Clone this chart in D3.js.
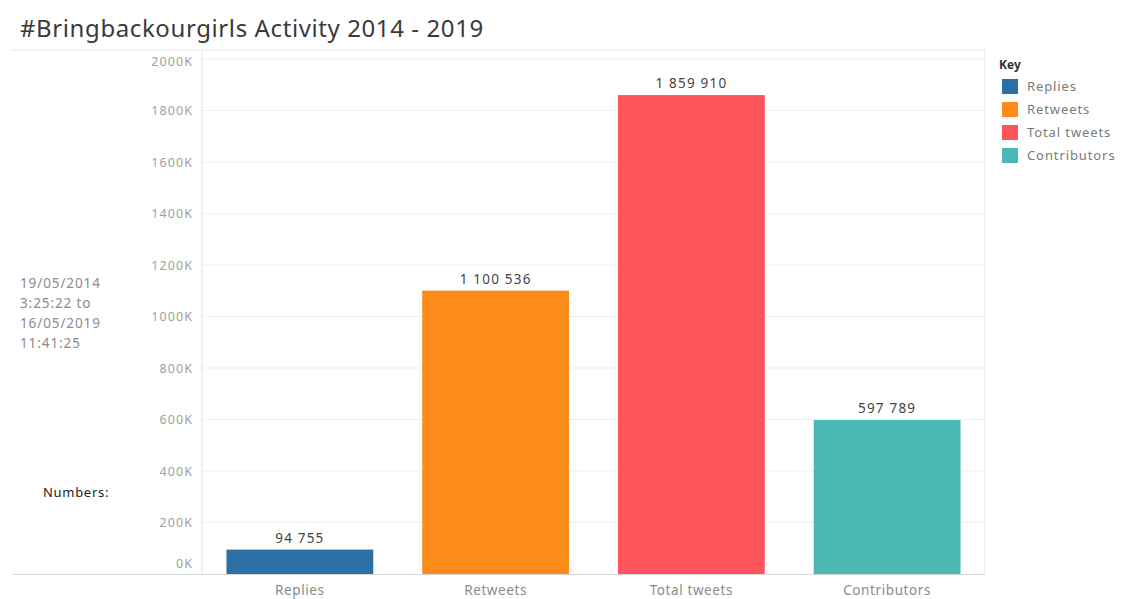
<!DOCTYPE html>
<html>
<head>
<meta charset="utf-8">
<script src="https://cdn.jsdelivr.net/npm/d3@7"></script>
<style>
  html, body { margin: 0; padding: 0; background: #fff; }
  svg { display: block; }
  text { font-family: "Noto Sans", "DejaVu Sans", sans-serif; }
</style>
</head>
<body>
<svg id="chart" width="1122" height="599"></svg>
<script>
// Activity totals for the hashtag over the period
const categories = ["Replies", "Retweets", "Total tweets", "Contributors"];
const values = [94755, 1100536, 1859910, 597789];
const colors = ["#2b6fa4", "#fb8c1c", "#fe545c", "#4ab8b3"];
const yTicks = [0, 200000, 400000, 600000, 800000, 1000000, 1200000, 1400000, 1600000, 1800000, 2000000];
const periodLines = ["19/05/2014", "3:25:22 to", "16/05/2019", "11:41:25"];

const svg = d3.select("#chart");

const plot = { left: 202, right: 985, top: 50, bottom: 574 };

const x = d3.scaleBand()
  .domain(categories)
  .range([plot.left, plot.right])
  .paddingInner(0.25)
  .paddingOuter(0.125);

const y = d3.scaleLinear()
  .domain([0, 2000000])
  .range([plot.bottom, 59]);

const fmtK = v => (v / 1000) + "K";
const fmtNum = v => d3.format(",")(v).replace(/,/g, " ");

// Title
svg.append("text")
  .attr("x", 20).attr("y", 37)
  .attr("font-size", 24)
  .attr("letter-spacing", 0.6)
  .attr("fill", "#3a3a3a")
  .text("#Bringbackourgirls Activity 2014 - 2019");

// Gridlines
svg.append("g")
  .selectAll("line")
  .data(yTicks.filter(t => t > 0))
  .join("line")
  .attr("x1", plot.left).attr("x2", plot.right)
  .attr("y1", d => y(d)).attr("y2", d => y(d))
  .attr("stroke", "#efefef").attr("stroke-width", 1);

// Frame lines
svg.append("line")
  .attr("x1", 12).attr("x2", plot.right)
  .attr("y1", plot.top).attr("y2", plot.top)
  .attr("stroke", "#e6e6e6");
svg.append("line")
  .attr("x1", plot.right).attr("x2", plot.right)
  .attr("y1", plot.top).attr("y2", plot.bottom)
  .attr("stroke", "#e6e6e6");
svg.append("line")
  .attr("x1", plot.left).attr("x2", plot.left)
  .attr("y1", plot.top).attr("y2", plot.bottom)
  .attr("stroke", "#e2e2e2");

// Y axis labels
const yAxis = d3.axisLeft(y)
  .tickValues(yTicks)
  .tickFormat(fmtK)
  .tickSize(0)
  .tickPadding(9);
const gy = svg.append("g")
  .attr("transform", `translate(${plot.left},0)`)
  .call(yAxis);
gy.select(".domain").remove();
gy.selectAll("text")
  .attr("font-size", 12.5)
  .attr("letter-spacing", 1.1)
  .attr("fill", "#a0a0a0")
  .attr("font-family", "\"Noto Sans\", sans-serif")
  .attr("dy", d => d === 0 ? "-0.5em" : (d === 2000000 ? "0.5em" : "0.32em"));

// Bars
svg.append("g")
  .selectAll("rect")
  .data(categories)
  .join("rect")
  .attr("x", d => x(d))
  .attr("width", x.bandwidth())
  .attr("y", (d, i) => y(values[i]))
  .attr("height", (d, i) => y(0) - y(values[i]))
  .attr("fill", (d, i) => colors[i]);

// Value labels
svg.append("g")
  .selectAll("text")
  .data(categories)
  .join("text")
  .attr("x", d => x(d) + x.bandwidth() / 2)
  .attr("y", (d, i) => y(values[i]) - 7)
  .attr("text-anchor", "middle")
  .attr("font-size", 13.5)
  .attr("letter-spacing", 1.2)
  .attr("fill", "#444")
  .text((d, i) => fmtNum(values[i]));

// Baseline
svg.append("line")
  .attr("x1", 12).attr("x2", plot.right)
  .attr("y1", plot.bottom + 0.5).attr("y2", plot.bottom + 0.5)
  .attr("stroke", "#d9d9d9");

// X axis labels
const xAxis = d3.axisBottom(x).tickSize(0).tickPadding(11);
const gx = svg.append("g")
  .attr("transform", `translate(0,${plot.bottom})`)
  .call(xAxis);
gx.select(".domain").remove();
gx.selectAll("text")
  .attr("font-size", 13.5)
  .attr("letter-spacing", 0.6)
  .attr("fill", "#8a8a8a")
  .attr("font-family", "\"Noto Sans\", sans-serif");

// Period note on the left
svg.append("g")
  .selectAll("text")
  .data(periodLines)
  .join("text")
  .attr("x", 20)
  .attr("y", (d, i) => 288 + i * 20)
  .attr("font-size", 13.5)
  .attr("letter-spacing", 0.9)
  .attr("fill", "#8c8c8c")
  .text(d => d);

svg.append("text")
  .attr("x", 43).attr("y", 497)
  .attr("font-size", 13)
  .attr("letter-spacing", 0.7)
  .attr("fill", "#222")
  .text("Numbers:");

// Legend
const legend = svg.append("g").attr("transform", "translate(999,0)");
legend.append("text")
  .attr("x", 0).attr("y", 69)
  .attr("font-size", 12)
  .attr("font-weight", "bold")
  .attr("fill", "#333")
  .text("Key");
const items = legend.selectAll("g.item")
  .data(categories)
  .join("g")
  .attr("class", "item")
  .attr("transform", (d, i) => `translate(3,${79 + i * 23})`);
items.append("rect")
  .attr("width", 16).attr("height", 15)
  .attr("fill", (d, i) => colors[i]);
items.append("text")
  .attr("x", 25).attr("y", 12)
  .attr("font-size", 13)
  .attr("letter-spacing", 0.9)
  .attr("fill", "#7a7a7a")
  .text(d => d);
</script>
</body>
</html>
